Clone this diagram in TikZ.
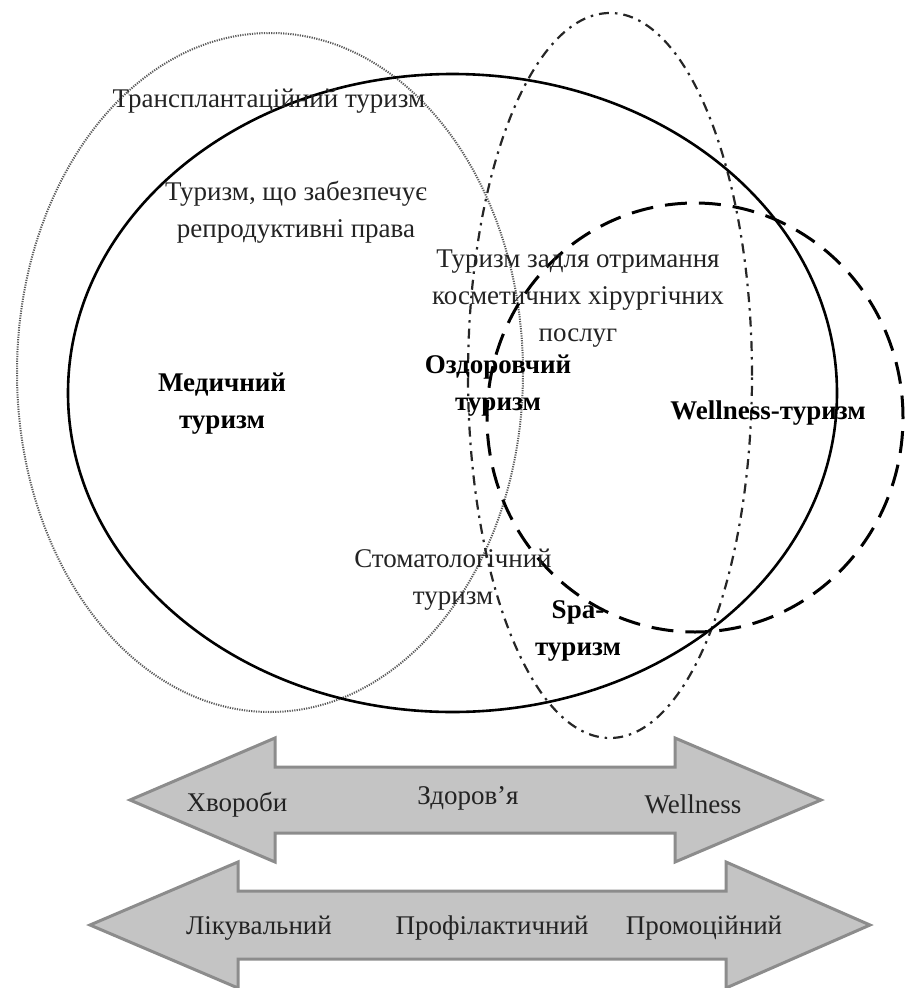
\documentclass[tikz,border=0pt]{standalone}
\usepackage{fontspec}
\setmainfont{Liberation Serif}
\definecolor{arrowfill}{RGB}{196,196,196}
\definecolor{arrowline}{RGB}{140,140,140}
\definecolor{txt}{RGB}{35,35,35}
\begin{document}
\begin{tikzpicture}[x=1pt,y=-1pt,
  lbl/.style={font=\fontsize{27}{37}\selectfont, text=txt, align=center, inner sep=0pt},
  blbl/.style={font=\fontsize{27}{37}\selectfont\bfseries, text=black, align=center, inner sep=0pt},
  solidell/.style={line width=2.6pt, black},
  dotell/.style={line width=2pt, black!65, dash pattern=on 1.2pt off 1.2pt},
  dashdotell/.style={line width=2.2pt, black!85, dash pattern=on 10pt off 6pt on 2.5pt off 6pt},
  dashell/.style={line width=3pt, black, dash pattern=on 22pt off 12pt},
  bigarrow/.style={fill=arrowfill, draw=arrowline, line width=3pt, line join=miter}
]
\useasboundingbox (0,0) rectangle (907,988);

% ellipses
\draw[dotell] (270,372.5) ellipse [x radius=253pt, y radius=339.5pt];
\draw[dashdotell] (610,375.5) ellipse [x radius=142pt, y radius=362.5pt];
\draw[dashell] (695,417.5) ellipse [x radius=208pt, y radius=214.5pt];
\draw[solidell] (452.5,393) ellipse [x radius=384.5pt, y radius=319pt];

% texts in ellipses
\node[lbl, anchor=base] (transpl) at (269,107) {Трансплантаційний туризм};
\node[lbl] (reprod) at (296,212) {Туризм, що забезпечує\\репродуктивні права};
\node[lbl] (cosmet) at (578,299) {Туризм задля отримання\\косметичних хірургічних\\послуг};
\node[blbl] (ozdor) at (498,386) {Оздоровчий\\туризм};
\node[blbl] (medic) at (222,404) {Медичний\\туризм};
\node[blbl, anchor=base] (welln) at (768,419) {Wellness-туризм};
\node[lbl] (stomat) at (453,580) {Стоматологічний\\туризм};
\node[blbl] (spa) at (578,631) {Spa-\\туризм};

% double arrows
\draw[bigarrow] (130,800) -- (275,738) -- (275,767) -- (675,767) -- (675,738)
  -- (821,800) -- (675,862) -- (675,833) -- (275,833) -- (275,862) -- cycle;
\draw[bigarrow] (90,925) -- (238,862) -- (238,891) -- (726,891) -- (726,862)
  -- (870,925) -- (726,988) -- (726,959) -- (238,959) -- (238,988) -- cycle;

\node[lbl, anchor=base] (hvor) at (237,811) {Хвороби};
\node[lbl, anchor=base] (zdor) at (468,804) {Здоров’я};
\node[lbl, anchor=base] (wel) at (693,813) {Wellness};
\node[lbl, anchor=base] (likuv) at (259,934) {Лікувальний};
\node[lbl, anchor=base] (profil) at (492,934) {Профілактичний};
\node[lbl, anchor=base] (promo) at (704,934) {Промоційний};
\end{tikzpicture}
\end{document}
